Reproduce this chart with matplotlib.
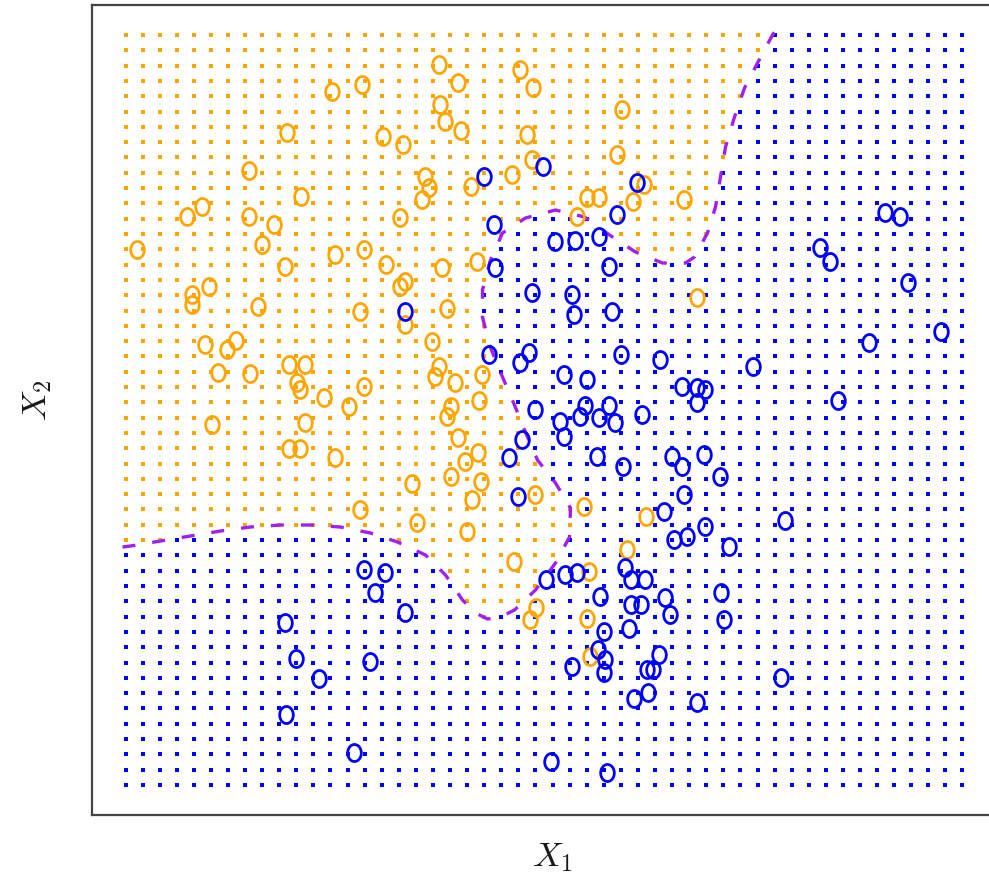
import numpy as np
import matplotlib
matplotlib.use("Agg")
import matplotlib.pyplot as plt
from matplotlib.path import Path

plt.rcParams['mathtext.fontset'] = 'cm'

# simulated observations, class "orange"
orange_x1 = [2.07, 2.37, 1.62, 2.58, 1.24, 1.76, 0.62, 0.77, 1.24, 1.49,
             1.37, 0.12, 2.10, 2.39, 1.60, 2.61, 3.14, 3.33, 3.95, 4.08,
             3.15, 3.20, 3.36, 2.78, 4.02, 4.97, 4.92, 4.07, 3.87, 3.00,
             3.04, 2.97, 3.46, 2.75, 4.62, 4.74, 5.19, 5.08, 5.59, 4.52,
             3.52, 3.17, 2.75, 2.80, 0.67, 0.67, 0.84, 1.33, 2.35, 0.80,
             1.02, 1.11, 0.93, 1.25, 1.64, 1.80, 1.72, 1.75, 1.99, 2.24,
             2.39, 0.87, 1.80, 1.64, 1.75, 2.10, 2.35, 2.80, 3.22, 3.07,
             3.14, 3.10, 3.30, 3.57, 3.54, 3.26, 3.22, 3.33, 3.53, 3.40,
             3.26, 3.56, 3.47, 2.87, 2.92, 3.42, 4.10, 4.59, 5.21, 5.02,
             3.89, 5.72, 4.64, 4.11, 4.05, 4.62, 4.65]
orange_x2 = [6.93, 7.00, 6.52, 6.48, 6.14, 5.88, 5.68, 5.78, 5.68, 5.60,
             5.40, 5.35, 5.30, 5.35, 5.18, 5.20, 7.20, 7.02, 7.15, 6.97,
             6.80, 6.63, 6.54, 6.40, 6.50, 6.75, 6.30, 6.25, 6.10, 6.08,
             5.97, 5.85, 5.98, 5.67, 5.87, 5.87, 6.00, 5.83, 5.85, 5.68,
             5.23, 5.17, 4.98, 5.03, 4.90, 4.80, 4.98, 4.78, 4.73, 4.40,
             4.35, 4.44, 4.12, 4.11, 4.20, 4.20, 4.02, 3.95, 3.87, 3.78,
             3.98, 3.60, 3.62, 3.36, 3.36, 3.27, 2.75, 4.60, 4.76, 4.43,
             4.18, 4.08, 4.02, 4.10, 3.84, 3.78, 3.68, 3.47, 3.32, 3.23,
             3.08, 3.03, 2.85, 3.01, 2.62, 2.53, 2.90, 2.78, 2.68, 2.35,
             2.23, 4.87, 2.13, 1.77, 1.65, 1.66, 1.28]

# simulated observations, class "blue"
blue_x1 = [3.59, 4.18, 5.12, 4.92, 3.69, 4.30, 4.50, 4.74, 3.70, 4.84,
           7.60, 7.75, 6.95, 7.05, 7.83, 4.07, 4.47, 4.49, 4.87, 2.80,
           3.64, 4.04, 3.95, 4.39, 4.62, 4.96, 5.35, 5.57, 5.72, 5.80,
           5.72, 6.28, 7.44, 8.16, 7.13, 4.10, 4.35, 4.39, 4.55, 4.60,
           4.74, 4.84, 4.90, 5.17, 3.97, 3.84, 4.72, 4.98, 5.47, 5.57,
           5.59, 5.79, 5.95, 3.93, 5.39, 5.49, 5.62, 5.80, 6.04, 6.60,
           2.39, 2.60, 2.50, 1.60, 1.71, 2.45, 1.94, 1.61, 2.29, 2.80,
           4.21, 4.40, 4.52, 5.00, 5.06, 5.20, 4.75, 5.06, 5.16, 5.40,
           5.45, 4.79, 5.04, 5.34, 4.73, 4.80, 4.79, 4.47, 5.22, 5.28,
           5.09, 5.23, 5.72, 5.96, 5.99, 6.56, 4.26, 4.82]
blue_x2 = [6.08, 6.18, 6.02, 5.70, 5.60, 5.43, 5.44, 5.48, 5.17, 5.18,
           5.72, 5.68, 5.37, 5.23, 5.02, 4.92, 4.90, 4.70, 4.73, 4.73,
           4.30, 4.32, 4.22, 4.10, 4.05, 4.30, 4.25, 3.98, 3.97, 3.95,
           3.82, 4.18, 4.42, 4.53, 3.84, 3.75, 3.63, 3.48, 3.68, 3.79,
           3.67, 3.79, 3.62, 3.70, 3.45, 3.27, 3.28, 3.18, 3.28, 3.18,
           2.90, 3.30, 3.08, 2.88, 2.73, 2.45, 2.48, 2.58, 2.38, 2.64,
           2.15, 2.12, 1.92, 1.62, 1.26, 1.23, 1.06, 0.70, 0.32, 1.72,
           2.05, 2.10, 2.12, 2.17, 2.05, 2.05, 1.88, 1.80, 1.80, 1.87,
           1.70, 1.53, 1.56, 1.30, 1.35, 1.25, 1.12, 1.18, 1.15, 1.15,
           0.86, 0.92, 0.82, 1.92, 1.65, 1.07, 0.23, 0.12]

# Bayes decision boundary, from the left edge up to the top edge
bayes_x1 = [-0.03, 0.05, 0.35, 0.65, 0.95, 1.25, 1.55, 1.85, 2.15, 2.45,
            2.72, 3.00, 3.20, 3.37, 3.50, 3.62, 3.75, 3.89, 4.10, 4.30,
            4.44, 4.45, 4.30, 4.12, 3.99, 3.89, 3.77, 3.64, 3.57, 3.57,
            3.65, 3.77, 4.00, 4.30, 4.59, 4.84, 5.10, 5.37, 5.60, 5.69,
            5.82, 5.90, 5.95, 6.00, 6.09, 6.19, 6.32, 6.47, 6.50]
bayes_x2 = [2.38, 2.39, 2.44, 2.49, 2.54, 2.58, 2.60, 2.60, 2.58, 2.52,
            2.43, 2.30, 2.10, 1.85, 1.72, 1.66, 1.68, 1.75, 1.95, 2.22,
            2.48, 2.77, 3.02, 3.25, 3.55, 3.80, 4.08, 4.40, 4.68, 4.95,
            5.25, 5.52, 5.67, 5.75, 5.68, 5.50, 5.33, 5.22, 5.22, 5.28,
            5.52, 5.78, 6.08, 6.38, 6.68, 6.97, 7.22, 7.50, 7.55]

# test grid
grid_x1 = np.linspace(0, 8.37, 50)
grid_x2 = np.linspace(0, 7.5, 50)
g1, g2 = np.meshgrid(grid_x1, grid_x2)
grid_pts = np.column_stack([g1.ravel(), g2.ravel()])

# orange region = above/left of the boundary
region = np.column_stack([
    [-1] + bayes_x1 + [bayes_x1[-1], -1],
    [bayes_x2[0]] + bayes_x2 + [9, 9],
])
is_orange = Path(region).contains_points(grid_pts)

orange = "#FFA500"
blue = "#0000FF"
purple = "#A020F0"

# letter-o shaped marker (taller than wide)
t = np.linspace(0, 2 * np.pi, 60)
o_marker = Path(np.column_stack([0.8 * np.cos(t), np.sin(t)]), closed=True)

fig = plt.figure(figsize=(9.89, 8.81), dpi=100)
ax = fig.add_axes([92 / 989, 66 / 881, 904 / 989, 810 / 881])

ax.scatter(grid_pts[is_orange, 0], grid_pts[is_orange, 1], marker="s", s=8,
           color=orange, linewidths=0, zorder=1)
ax.scatter(grid_pts[~is_orange, 0], grid_pts[~is_orange, 1], marker="s", s=8,
           color=blue, linewidths=0, zorder=1)

ax.plot(bayes_x1, bayes_x2, color=purple, lw=2.4, linestyle=(0, (3.9, 5.1)),
        zorder=2)

ax.scatter(orange_x1, orange_x2, marker=o_marker, s=150, facecolors="none",
           edgecolors=orange, linewidths=2.0, zorder=3)
ax.scatter(blue_x1, blue_x2, marker=o_marker, s=150, facecolors="none",
           edgecolors=blue, linewidths=2.0, zorder=3)

ax.set_xlim(-0.335, 8.705)
ax.set_ylim(-0.3, 7.8)
ax.set_xticks([])
ax.set_yticks([])
for sp in ax.spines.values():
    sp.set_color("#444444")
    sp.set_linewidth(1.6)

fig.text(552 / 989, 1 - 857 / 881, r"$X_1$", fontsize=25, ha="center",
         va="center", color="#1a1a1a")
fig.text(37 / 989, 1 - 400 / 881, r"$X_2$", fontsize=25, ha="center",
         va="center", rotation=90, color="#1a1a1a")

fig.savefig("out.png", dpi=100)
